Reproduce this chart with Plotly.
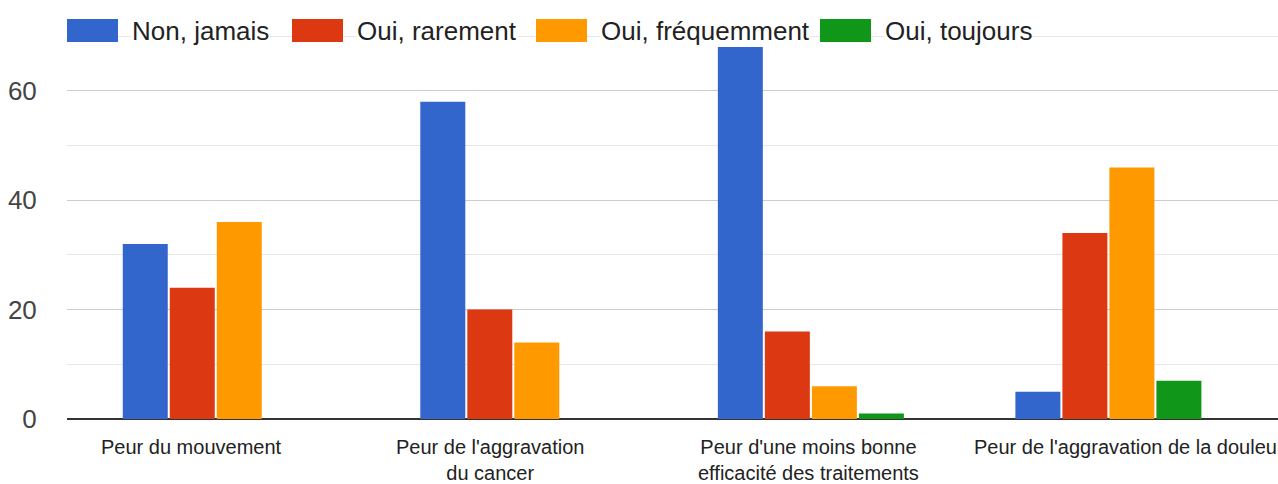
import plotly.graph_objects as go

# ---- data ----
categories = [
    "Peur du mouvement",
    "Peur de l'aggravation<br>du cancer",
    "Peur d'une moins bonne<br>efficacité des traitements",
    "Peur de l'aggravation de la douleur",
]
series_names = ["Non, jamais", "Oui, rarement", "Oui, fréquemment", "Oui, toujours"]
non_jamais = [32, 58, 68, 5]
oui_rarement = [24, 20, 16, 34]
oui_frequemment = [36, 14, 6, 46]
oui_toujours = [0, 0, 1, 7]
y_tickvals = [0, 20, 40, 60]
y_minor_vals = [10, 30, 50, 70]

# ---- style / layout constants ----
colors = ["#3366cc", "#dc3912", "#ff9900", "#109618"]
W, H = 1278, 484
PL, PT, PB = 67, 35, 419          # plot left / top / bottom in px
PW, PH = W - PL, PB - PT
FONT = "Liberation Sans, Arial, sans-serif"
label_xshift = [-24, -23, -2, 21]
legend_swatch_px = [67, 292, 536, 820]
legend_text_gap = 64


def px_x(p):
    return (p - PL) / PW


def px_y(p):
    return (PB - p) / PH


series_values = [non_jamais, oui_rarement, oui_frequemment, oui_toujours]

fig = go.Figure()
for name, vals, col in zip(series_names, series_values, colors):
    fig.add_trace(go.Bar(x=categories, y=vals, name=name, marker_color=col,
                         marker_line_width=0, showlegend=False))

shapes = []
annotations = []
# manual legend (swatches + real text)
for name, col, sx in zip(series_names, colors, legend_swatch_px):
    shapes.append(dict(type="rect", xref="paper", yref="paper",
                       x0=px_x(sx), x1=px_x(sx + 51), y0=px_y(42), y1=px_y(19),
                       fillcolor=col, line=dict(width=0), layer="above"))
    annotations.append(dict(xref="paper", yref="paper", x=px_x(sx + legend_text_gap),
                            y=px_y(30.5), xanchor="left", yanchor="middle",
                            text=name, showarrow=False, bgcolor="white", borderpad=0,
                            font=dict(family=FONT, size=26, color="#222222")))

# category labels
for cat, xs in zip(categories, label_xshift):
    annotations.append(dict(xref="x", yref="paper", x=cat, y=0, xanchor="center",
                            yanchor="top", yshift=-15, xshift=xs, text=cat,
                            showarrow=False, align="center",
                            font=dict(family=FONT, size=20, color="#222222")))

fig.update_layout(
    width=W, height=H,
    margin=dict(l=PL, r=0, t=PT, b=H - PB, pad=0),
    paper_bgcolor="white", plot_bgcolor="white",
    barmode="group", bargap=0.368, bargroupgap=0.043,
    font=dict(family=FONT),
    shapes=shapes, annotations=annotations,
    xaxis=dict(type="category", range=[-0.5, 3.57], showticklabels=False,
               showgrid=False, zeroline=False, showline=False, ticks=""),
    yaxis=dict(range=[0, 70.2], tickmode="array", tickvals=y_tickvals,
               showgrid=True, gridcolor="#cccccc", gridwidth=1,
               minor=dict(tickmode="array", tickvals=y_minor_vals, showgrid=True,
                          gridcolor="#e6e6e6", gridwidth=1, ticks=""),
               zeroline=True, zerolinecolor="#333333", zerolinewidth=2,
               showline=False, ticks="outside", ticklen=24,
               tickcolor="rgba(0,0,0,0)",
               tickfont=dict(family=FONT, size=26, color="#444444")),
)

fig.write_html("out.html", config={"displayModeBar": False},
               post_script="document.body.style.margin='0';")
